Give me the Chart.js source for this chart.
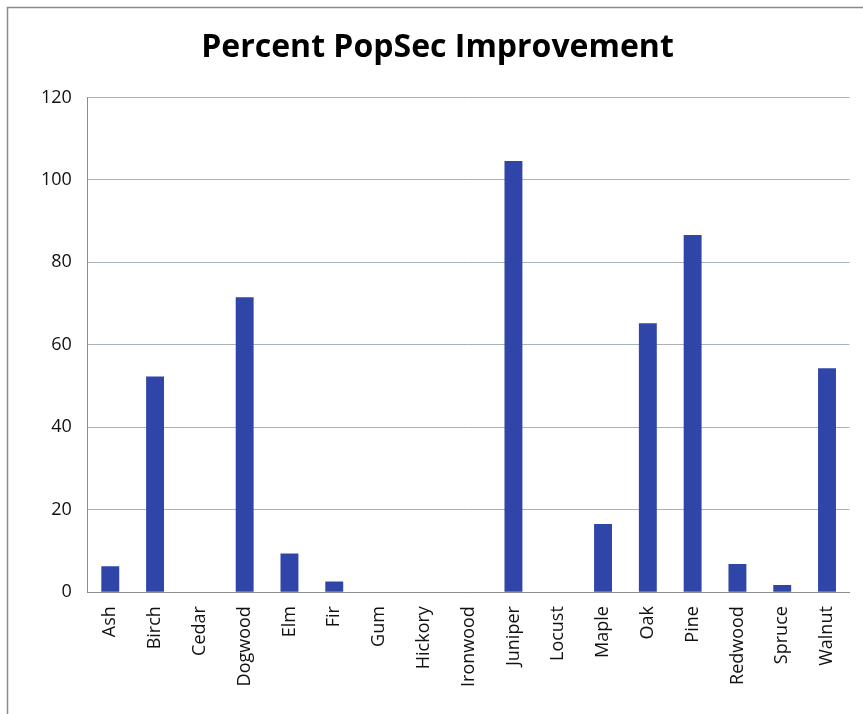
<!DOCTYPE html>
<html>
<head>
<meta charset="utf-8">
<script src="https://cdn.jsdelivr.net/npm/chart.js@4"></script>
<style>
  html, body { margin: 0; padding: 0; background: #fff; }
  #wrap { width: 863px; height: 714px; }
</style>
</head>
<body>
<div id="wrap"><canvas id="canvas" width="863" height="714"></canvas></div>
<script>
"use strict"

const trees = ['Ash', 'Birch', 'Cedar', 'Dogwood', 'Elm', 'Fir', 'Gum', 'Hickory', 'Ironwood',
    'Juniper', 'Locust', 'Maple', 'Oak', 'Pine', 'Redwood', 'Spruce', 'Walnut'];
const improvement = [6.3, 52.3, 0, 71.5, 9.4, 2.6, 0, 0, 0, 104.6, 0, 16.5, 65.2, 86.6, 6.8, 1.7, 54.3];
const yTicks = [0, 20, 40, 60, 80, 100, 120];

const frame = {
    id: 'frame',
    beforeDraw(chart) {
        let c = chart.ctx;
        c.save();
        c.fillStyle = '#fff';
        c.fillRect(0, 0, chart.width, chart.height);
        c.strokeStyle = '#8a8a8a';
        c.lineWidth = 1.5;
        c.strokeRect(7.5, 7.5, 900, 800);
        c.restore();
    }
};

let ctx = document.getElementById('canvas').getContext('2d');
let myChart = new Chart(ctx, {
    type: 'bar',
    data: {
        labels: trees,
        datasets: [{
            label: 'Percent PopSec Improvement',
            data: improvement,
            backgroundColor: '#3045a8',
            borderWidth: 0,
            barPercentage: 0.4,
            categoryPercentage: 1.0
        }]
    },
    options: {
        responsive: false,
        animation: false,
        layout: { padding: { left: 25, right: 13, top: 29, bottom: 13 } },
        plugins: {
            legend: { display: false },
            tooltip: { enabled: false },
            title: {
                display: true,
                text: 'Percent PopSec Improvement',
                color: '#000',
                font: { family: 'Open Sans', size: 32, weight: 'bold' },
                padding: { top: 0, bottom: 30 }
            }
        },
        scales: {
            x: {
                grid: { display: false, drawTicks: false },
                border: { color: '#8c8c8c', width: 1 },
                ticks: {
                    color: '#111',
                    font: { family: 'Open Sans', size: 18 },
                    minRotation: 90,
                    maxRotation: 90,
                    autoSkip: false,
                    padding: 14
                }
            },
            y: {
                min: 0,
                max: 120,
                afterBuildTicks(axis) { axis.ticks = yTicks.map(v => ({ value: v })); },
                grid: { color: '#a9b2b8', drawTicks: false },
                border: { color: '#8c8c8c', width: 1 },
                ticks: {
                    color: '#111',
                    font: { family: 'Open Sans', size: 18 },
                    padding: 16
                }
            }
        }
    },
    plugins: [frame]
});
</script>
</body>
</html>
